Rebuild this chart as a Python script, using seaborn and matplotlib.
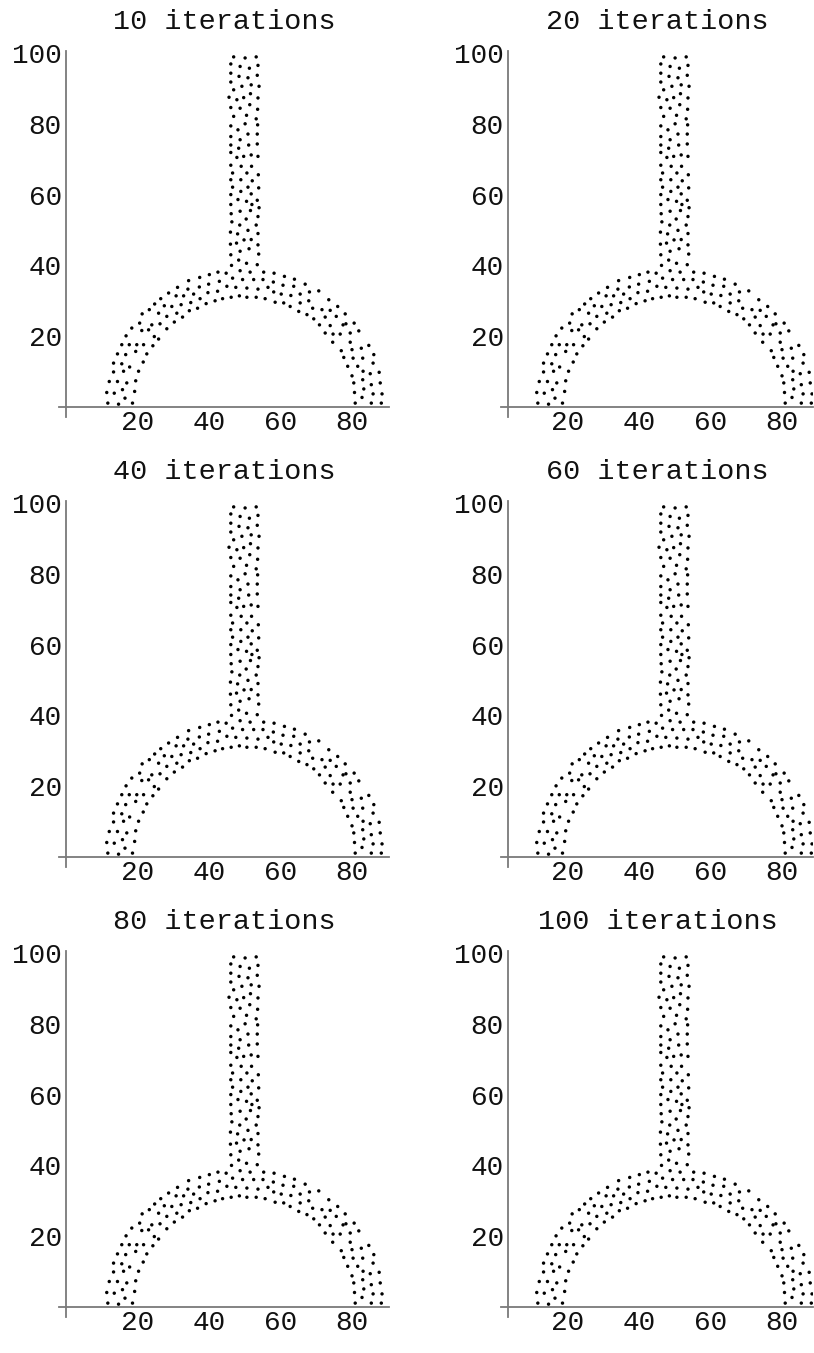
import matplotlib
matplotlib.use("Agg")
import matplotlib.pyplot as plt
import seaborn as sns
import pandas as pd
from matplotlib.ticker import MultipleLocator, FixedLocator

# ---- data (same node layout in every panel) ----
titles = ["10 iterations", "20 iterations", "40 iterations",
          "60 iterations", "80 iterations", "100 iterations"]

stem_x = [46.9, 50.1, 53.2,
          46.1, 48.7, 51.3, 53.7,
          46.1, 48.4, 50.9, 53.5,
          46.1, 49.2, 51.8, 54.0,
          46.9, 45.6, 47.8, 49.7, 51.6, 53.7,
          46.1, 48.7, 51.4, 53.6,
          46.9, 50.5, 53.2,
          46.1, 48.1, 50.1, 53.6,
          46.1, 48.7, 50.9, 53.5,
          46.1, 48.3, 51.1, 53.5,
          46.1, 47.8, 49.7, 51.8, 53.7,
          46.1, 49.0, 51.9,
          46.6, 50.6, 53.8,
          46.1, 48.9, 52.1,
          46.6, 50.9, 53.9,
          46.1, 48.9, 51.8,
          48.1, 50.5, 53.5,
          46.1, 52.0,
          46.2, 48.7, 51.6, 54.0,
          46.4, 50.4, 53.7,
          48.6, 53.2,
          46.0, 48.0, 50.9, 53.7,
          46.0, 47.7, 49.8, 51.8, 53.7,
          48.7, 51.2,
          46.1, 53.9,
          48.3,
          46.3, 50.5, 53.5]
stem_y = [98.9, 98.6, 98.9,
          96.9, 96.2, 95.7, 96.5,
          94.3, 93.4, 93.0, 93.7,
          91.8, 90.6, 91.0, 90.6,
          89.6, 87.5, 86.8, 87.4, 88.5, 87.3,
          84.6, 84.4, 85.4, 84.1,
          82.1, 82.4, 81.4,
          79.4, 78.3, 80.0, 79.7,
          76.4, 75.5, 77.1, 77.1,
          74.0, 73.1, 74.0, 74.3,
          71.9, 70.5, 70.8, 71.2, 70.8,
          68.3, 68.0, 68.0,
          66.1, 66.1, 65.6,
          64.2, 64.2, 63.9,
          62.1, 62.1, 61.9,
          60.0, 60.9, 60.2,
          58.6, 58.1, 58.4,
          57.2, 57.2,
          54.6, 55.3, 55.5, 56.3,
          52.3, 53.1, 53.8,
          51.4, 51.4,
          49.4, 48.9, 49.9, 49.0,
          46.0, 46.3, 47.2, 47.3, 45.8,
          44.0, 44.7,
          43.0, 43.2,
          41.5,
          40.0, 40.6, 40.2]

arc_x = [24.8, 27.5, 29.6, 32.2, 34.5,
         21.3, 23.3, 25.9, 28.2, 31.0, 32.6,
         18.4, 20.6, 24.0, 26.3, 28.2, 30.3,
         16.8, 21.2, 23.1, 24.7, 25.9,
         15.6, 17.7, 19.8, 21.7, 24.3,
         14.4, 16.7, 19.5, 22.6,
         13.3, 15.6, 17.8, 21.6,
         13.3, 16.1, 20.3,
         12.1, 14.4, 17.0, 19.5,
         11.4, 13.5, 15.8, 19.2,
         11.7, 14.7, 16.5, 18.6,
         42.5, 44.8,
         37.4, 40.1, 42.9, 45.0,
         34.3, 37.3, 39.9, 42.4,
         31.2, 34.1, 35.7, 39.7, 41.7, 43.8,
         28.7, 26.5, 30.8, 32.9, 34.9, 37.5, 39.2,
         36.8,
         46.6, 48.7, 51.5, 55.3, 58.2, 61.1, 63.9,
         47.5, 49.4, 50.6, 52.5, 53.7, 55.1, 56.5, 58.0, 58.1, 60.7, 63.7, 66.9,
         46.2, 48.5, 50.6, 53.2, 55.7, 58.5, 60.2, 60.9, 62.9, 65.5, 68.1, 70.7,
         62.7, 65.1, 65.5, 67.9, 73.5,
         67.4, 69.0, 69.3, 71.6, 72.5, 73.9, 75.6, 76.0, 78.1, 78.3,
         70.9, 72.5, 73.9, 74.7, 76.7, 77.5, 79.5, 80.6, 81.9,
         74.6, 77.0, 79.5, 80.0, 82.6, 84.7,
         77.7, 80.3, 83.0, 78.8, 81.6, 86.1, 85.9,
         80.0, 83.1, 85.1, 87.6,
         80.5, 83.0, 85.4, 87.9,
         80.7, 83.3, 85.9, 88.4,
         80.9, 82.8, 85.4, 88.2]
arc_y = [29.1, 28.6, 28.4, 28.9, 27.2,
         26.3, 27.5, 26.5, 25.6, 26.5, 25.4,
         22.3, 23.7, 23.2, 23.5, 22.1, 24.0,
         20.1, 21.6, 21.8, 19.9, 19.2,
         17.6, 17.6, 17.6, 17.6, 17.3,
         15.0, 14.8, 15.7, 15.0,
         12.4, 12.2, 11.3, 12.7,
         9.9, 10.1, 10.1,
         7.2, 7.2, 6.8, 7.4,
         4.1, 3.9, 4.9, 4.4,
         1.1, 0.8, 2.5, 1.1,
         38.1, 37.8,
         36.6, 37.4, 35.5, 34.1,
         35.7, 33.9, 34.7, 32.7,
         33.8, 33.3, 31.9, 32.3, 30.0, 30.6,
         32.2, 30.6, 31.4, 31.4, 29.5, 30.6, 29.2,
         27.9,
         36.4, 38.5, 38.1, 38.1, 37.8, 36.9, 36.1,
         33.8, 36.0, 33.6, 36.0, 33.3, 36.0, 33.8, 35.3, 32.5, 34.4, 34.1, 34.7,
         31.0, 31.4, 31.0, 31.0, 30.6, 29.6, 31.9, 29.4, 31.5, 31.9, 32.5, 32.8,
         28.4, 27.0, 29.4, 30.0, 30.3,
         26.1, 27.9, 24.9, 27.5, 25.4, 27.3, 25.6, 28.4, 26.3, 23.5,
         23.2, 20.9, 23.0, 20.6, 20.6, 23.2, 20.9, 23.7, 21.5,
         18.3, 15.9, 18.3, 16.2, 16.6, 17.4,
         14.0, 13.8, 13.8, 11.5, 11.5, 14.8, 12.4,
         8.8, 10.1, 9.4, 9.8,
         6.8, 7.7, 6.3, 6.8,
         4.1, 5.1, 3.7, 3.7,
         1.1, 2.7, 1.1, 1.1]

x_major = [20, 40, 60, 80]
y_major = [20, 40, 60, 80, 100]

# axis crossing point and x-extent for the left / right column
axis_x0 = [0.0, 3.4]
x_lo = [-1.9, 1.5]
x_hi = [90.3, 88.8]

nodes = pd.DataFrame({"x": stem_x + arc_x, "y": stem_y + arc_y})

# ---- figure ----
sns.set_style("white")
plt.rcParams["font.family"] = ["Liberation Mono", "DejaVu Sans Mono"]

W, H = 814, 1353
fig = plt.figure(figsize=(W / 100, H / 100), dpi=100)

sx, sy = 3.575, 3.54          # px per data unit
ymin, ymax = -2.7, 100.5
axis_col = "#7a7a7a"
col_origin = [66, 496]        # pixel of x = 0 in each column

for i, title in enumerate(titles):
    r, c = divmod(i, 2)
    ox = col_origin[c]
    oy = 407 + 450 * r         # pixel of y = 0 (from top)
    xmin, xmax = x_lo[c], x_hi[c]
    left = ox + xmin * sx
    top = oy - ymax * sy
    w = (xmax - xmin) * sx
    h = (ymax - ymin) * sy
    ax = fig.add_axes([left / W, 1 - (top + h) / H, w / W, h / H])
    sns.scatterplot(data=nodes, x="x", y="y", ax=ax, s=6, color="black",
                    edgecolor="none", linewidth=0, legend=False)
    ax.set_xlim(xmin, xmax)
    ax.set_ylim(ymin, ymax)
    ax.set_xlabel("")
    ax.set_ylabel("")
    for s in ("top", "right"):
        ax.spines[s].set_visible(False)
    ax.spines["left"].set_position(("data", axis_x0[c]))
    ax.spines["bottom"].set_position(("data", 0))
    for s in ("left", "bottom"):
        ax.spines[s].set_color(axis_col)
        ax.spines[s].set_linewidth(1.3)
    ax.xaxis.set_major_locator(FixedLocator(x_major))
    ax.yaxis.set_major_locator(FixedLocator(y_major))
    ax.xaxis.set_minor_locator(MultipleLocator(5))
    ax.yaxis.set_minor_locator(MultipleLocator(5))
    ax.tick_params(which="major", direction="in", length=4, width=0.8,
                   color="#333333", labelsize=20, labelcolor="#111111", pad=3)
    ax.tick_params(which="minor", direction="in", length=2, width=0.7,
                   color="#333333")
    ax.tick_params(axis="x", which="major", pad=2)
    ax.set_title(title, fontsize=20.5, color="#111111", pad=16)
    ax.patch.set_alpha(0)

fig.savefig("out.png", dpi=100)
